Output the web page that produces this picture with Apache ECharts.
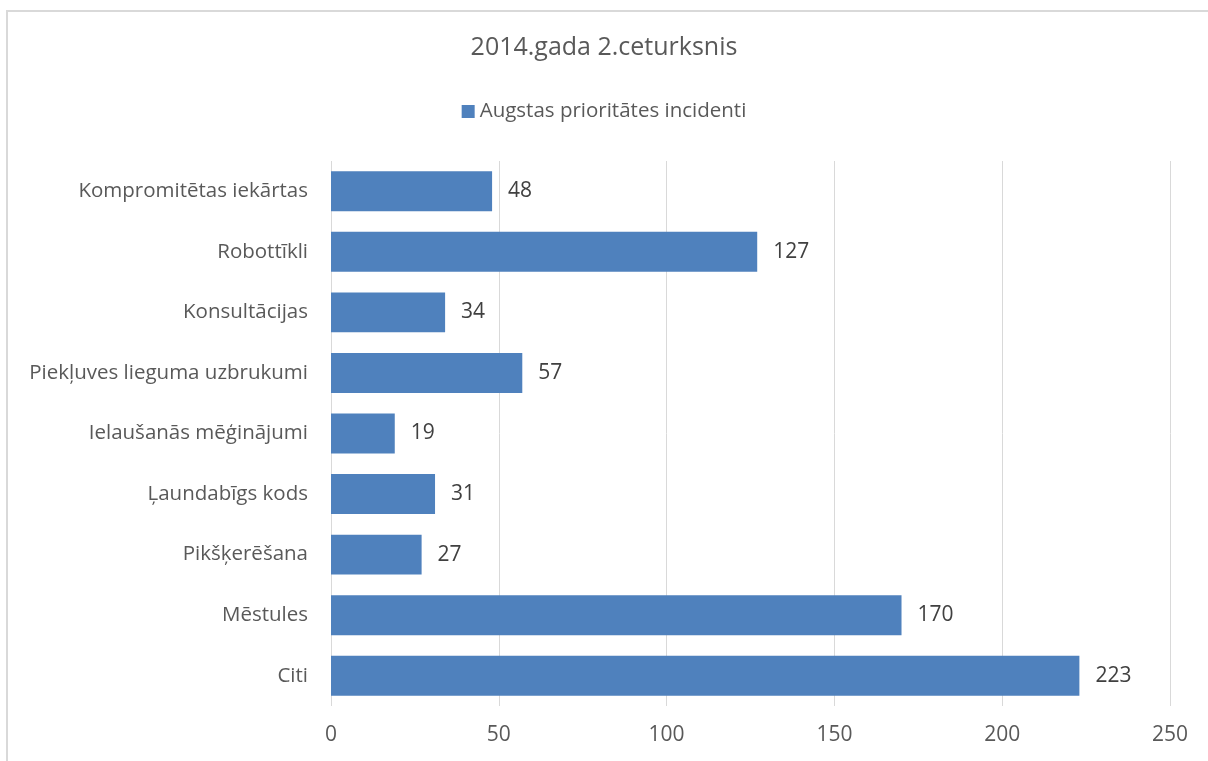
<!DOCTYPE html>
<html><head><meta charset="utf-8">
<script src="https://cdn.jsdelivr.net/npm/echarts@6/dist/echarts.min.js"></script>
<style>html,body{margin:0;padding:0;background:#fff}#c{width:1208px;height:761px}</style>
</head><body><div id="c"></div>
<script>
const categories = ["Citi","Mēstules","Pikšķerēšana","Ļaundabīgs kods","Ielaušanās mēģinājumi","Piekļuves lieguma uzbrukumi","Konsultācijas","Robottīkli","Kompromitētas iekārtas"];
const values = [223,170,27,31,19,57,34,127,48];
const seriesName = "Augstas prioritātes incidenti";
const titleText = "2014.gada 2.ceturksnis";
const font = "'Open Sans', 'Liberation Sans', sans-serif";
const chart = echarts.init(document.getElementById('c'));
chart.setOption({
  animation:false,
  textStyle:{fontFamily:font},
  graphic:[{type:'rect',shape:{x:7,y:11,width:1400,height:900},style:{fill:'none',stroke:'#d9d9d9',lineWidth:2}}],
  title:{text:titleText,left:'center',top:30,textStyle:{fontFamily:font,fontSize:25,fontWeight:'normal',color:'#595959'}},
  legend:{top:96,left:'center',itemWidth:13,itemHeight:13,itemGap:10,icon:'rect',textStyle:{fontFamily:font,fontSize:20.5,color:'#595959'},data:[seriesName]},
  grid:{left:331,right:38,top:161,bottom:55},
  xAxis:{type:'value',min:0,max:250,interval:50,axisLine:{show:false},axisTick:{show:false},
    splitLine:{lineStyle:{color:'#d9d9d9',width:1}},
    axisLabel:{fontFamily:font,fontSize:21,color:'#595959',margin:19}},
  yAxis:{type:'category',data:categories,axisLine:{show:false},axisTick:{show:false},
    axisLabel:{fontFamily:font,fontSize:20.5,color:'#595959',margin:23}},
  series:[{name:seriesName,type:'bar',data:values,barCategoryGap:'34%',
    itemStyle:{color:'#4f81bd'},
    label:{show:true,position:'right',distance:16,fontFamily:font,fontSize:21,color:'#404040'}}]
});
</script></body></html>
